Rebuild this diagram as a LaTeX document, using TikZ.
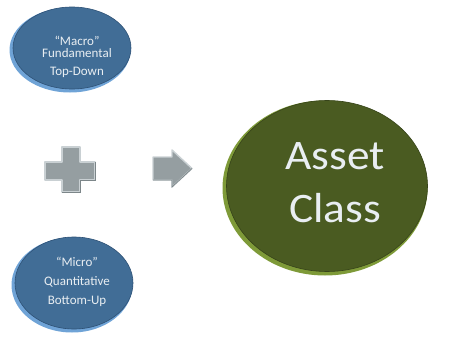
\documentclass[tikz,border=0pt]{standalone}
\usepackage{fontspec}
\setmainfont{Carlito}
\usetikzlibrary{positioning,shapes.geometric}

\definecolor{blueFill}{HTML}{416D96}
\definecolor{blueRim}{HTML}{6FA3D6}
\definecolor{blueEdge}{HTML}{2E5175}
\definecolor{greenFill}{HTML}{4A5B21}
\definecolor{greenRim}{HTML}{7E9A38}
\definecolor{greenEdge}{HTML}{37441A}
\definecolor{symFill}{HTML}{959EA1}
\definecolor{symEdge}{HTML}{C9D0D3}
\definecolor{symDark}{HTML}{7C8689}
\definecolor{textLight}{HTML}{E9EEF2}

\tikzset{
  bubble/.style={ellipse, inner sep=0pt},
  blueBubble/.style={bubble, fill=blueFill, draw=blueEdge, line width=0.6pt},
  blueRing/.style={bubble, fill=blueRim},
  greenBubble/.style={bubble, fill=greenFill, draw=greenEdge, line width=0.6pt},
  greenRing/.style={bubble, fill=greenRim},
  bubbleText/.style={inner sep=0pt, text=textLight, align=center},
  symbol/.style={fill=symFill, draw=symEdge, line width=1.4pt, line join=round},
}

\begin{document}
\begin{tikzpicture}[x=1pt, y=-1pt]
\useasboundingbox (0,0) rectangle (450,348);

% Top bubble, macro view
\node[blueRing, minimum width=121pt, minimum height=85pt] (macroRing) at (70,50) {};
\node[blueBubble, minimum width=118pt, minimum height=82pt] (macro) at (72,48) {};
\node[bubbleText, font=\fontsize{13}{11.5}\selectfont] (macroText) at (77,57.3)
  {``Macro''\\Fundamental\\[7pt]Top-Down};

% Bottom bubble, micro view
\node[blueRing, minimum width=121pt, minimum height=95pt] (microRing) at (72,285) {};
\node[blueBubble, minimum width=118pt, minimum height=92pt] (micro) at (74,283) {};
\node[bubbleText, font=\fontsize{13}{19}\selectfont] (microText) at (77,282)
  {``Micro''\\Quantitative\\Bottom-Up};

% Result bubble
\node[greenRing, minimum width=205pt, minimum height=175pt] (assetRing) at (325,188) {};
\node[greenBubble, minimum width=201pt, minimum height=171pt] (asset) at (327,186) {};
\node[bubbleText, font=\fontsize{42}{53}\selectfont] (assetText) at (335,182.4)
  {\scalebox{1.08}[1]{Asset}\\\scalebox{1.08}[1]{Class}};

% Plus sign
\draw[symbol] (62,147) -- (80,147) -- (80,162) -- (95,162) -- (95,180) -- (80,180)
  -- (80,192) -- (62,192) -- (62,180) -- (45,180) -- (45,162) -- (62,162) -- cycle;
\draw[symDark, line width=0.7pt] (62,192) -- (80,192) -- (80,180) -- (95,180) -- (95,162);

% Arrow
\draw[symbol] (153,157) -- (172,157) -- (172,150) -- (192,168.5) -- (172,187)
  -- (172,180) -- (153,180) -- cycle;
\draw[symDark, line width=0.7pt] (192,168.5) -- (172,187) -- (172,180) -- (153,180);

\end{tikzpicture}
\end{document}
